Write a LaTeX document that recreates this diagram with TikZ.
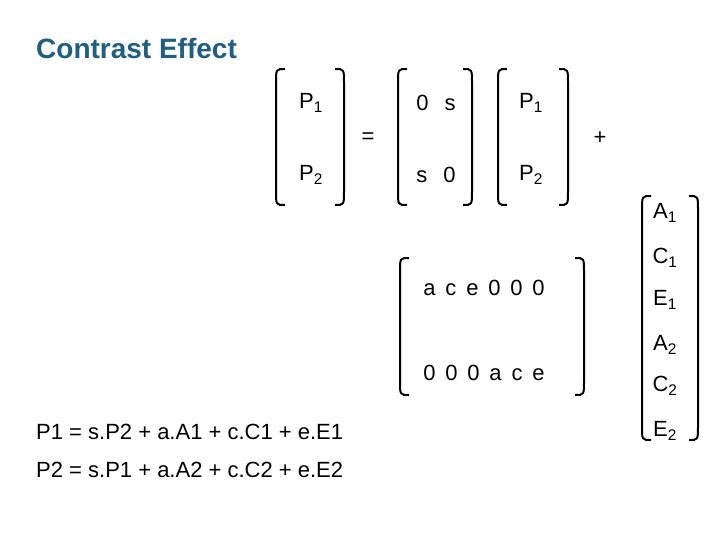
\documentclass[tikz,border=0pt]{standalone}
\usepackage{fontspec}
\setmainfont{Liberation Sans}
\usetikzlibrary{positioning}
\definecolor{titleblue}{RGB}{31,95,128}
\newcommand{\lbrk}[3]{\draw[brk] (#1+9,#2) .. controls (#1,#2) .. (#1,#2+14) -- (#1,#3-14) .. controls (#1,#3) .. (#1+9,#3);}
\newcommand{\rbrk}[3]{\draw[brk] (#1-9,#2) .. controls (#1,#2) .. (#1,#2+14) -- (#1,#3-14) .. controls (#1,#3) .. (#1-9,#3);}
\newcommand{\sub}[1]{\textsubscript{#1}}
\begin{document}
\begin{tikzpicture}[x=1pt,y=-1pt,
          txt/.style={font=\fontsize{22}{26}\selectfont,inner sep=0pt},
          brk/.style={draw,line width=2pt}
        ]
        \useasboundingbox (0,0) rectangle (720,540);
        \node[txt,anchor=west,text=titleblue,font=\fontsize{28}{32}\selectfont\bfseries] (title) at (36,48) {Contrast Effect};

        %matrices
        \lbrk{276}{69}{205} \rbrk{344}{69}{205}
        \node[txt] (p1a) at (311,103) {P\sub{1}};
        \node[txt] (p2a) at (311,175) {P\sub{2}};
        \node[txt] (eq) at (368,138) {=};
        \lbrk{398}{69}{205} \rbrk{472}{69}{205}
        \node[txt] (s1) at (436,103) {0\ \ \,s};
        \node[txt] (s2) at (436,175) {s\ \ \,0};
        \lbrk{498}{69}{205} \rbrk{568}{69}{205}
        \node[txt] (p1b) at (531,103) {P\sub{1}};
        \node[txt] (p2b) at (531,175) {P\sub{2}};
        \node[txt] (plus) at (600,138) {+};

        %big matrix
        \lbrk{400}{258}{395} \rbrk{584}{258}{395}
        \node[txt] (r1) at (484,288) {a\ \,c\ \,e\ \,0\ \,0\ \,0};
        \node[txt] (r2) at (484,373) {0\ \,0\ \,0\ \,a\ \,c\ \,e};

        %vector
        \lbrk{642}{196}{440} \rbrk{698}{196}{440}
        \node[txt] (a1) at (665,213) {A\sub{1}};
        \node[txt] (c1) at (665,258) {C\sub{1}};
        \node[txt] (e1) at (665,300) {E\sub{1}};
        \node[txt] (a2) at (665,345) {A\sub{2}};
        \node[txt] (c2) at (665,386) {C\sub{2}};
        \node[txt] (e2) at (665,431) {E\sub{2}};

        %equations
        \node[txt,anchor=west] (eqa) at (36,432) {P1 = s.P2 + a.A1 + c.C1 + e.E1};
        \node[txt,anchor=west] (eqb) at (36,470) {P2 = s.P1 + a.A2 + c.C2 + e.E2};
\end{tikzpicture}
\end{document}
